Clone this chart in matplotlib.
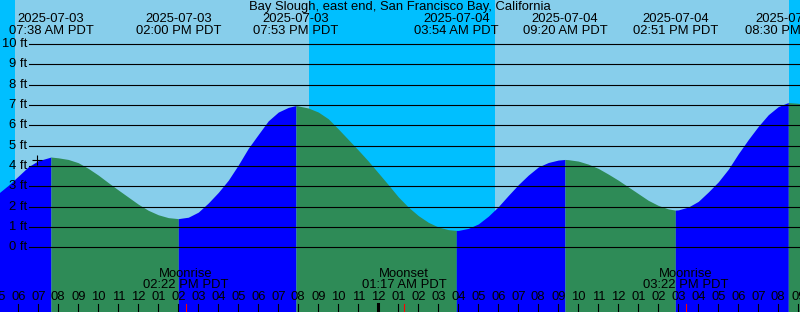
import numpy as np
import matplotlib
matplotlib.use('Agg')
import matplotlib.pyplot as plt

# tide heights every half hour
# (hours since 2025-07-03 00:00 PDT, feet)
hours = [5.0, 5.5, 6.0, 6.5, 7.0, 7.5, 7.633, 8.0, 8.5, 9.0, 9.5, 10.0, 10.5,
         11.0, 11.5, 12.0, 12.5, 13.0, 13.5, 14.0, 14.5, 15.0, 15.5, 16.0,
         16.5, 17.0, 17.5, 18.0, 18.5, 19.0, 19.5, 19.883, 20.0, 20.5, 21.0,
         21.5, 22.0, 22.5, 23.0, 23.5, 24.0, 24.5, 25.0, 25.5, 26.0, 26.5,
         27.0, 27.5, 27.9, 28.0, 28.5, 29.0, 29.5, 30.0, 30.5, 31.0, 31.5,
         32.0, 32.5, 33.0, 33.333, 33.5, 34.0, 34.5, 35.0, 35.5, 36.0, 36.5,
         37.0, 37.5, 38.0, 38.5, 38.85, 39.0, 39.5, 40.0, 40.5, 41.0, 41.5,
         42.0, 42.5, 43.0, 43.5, 44.0, 44.5, 45.0, 45.2]
heights = [2.65, 3.05, 3.50, 3.96, 4.26, 4.40, 4.44, 4.40, 4.32, 4.16, 3.88,
           3.55, 3.18, 2.82, 2.47, 2.12, 1.82, 1.60, 1.46, 1.41, 1.48, 1.73,
           2.18, 2.70, 3.30, 4.05, 4.87, 5.55, 6.22, 6.65, 6.88, 6.97, 6.95,
           6.85, 6.65, 6.32, 5.82, 5.30, 4.78, 4.24, 3.66, 3.08, 2.48, 1.98,
           1.56, 1.23, 1.00, 0.87, 0.83, 0.83, 0.93, 1.15, 1.53, 2.00, 2.55,
           3.08, 3.55, 3.95, 4.17, 4.29, 4.32, 4.31, 4.24, 4.09, 3.88, 3.60,
           3.30, 2.97, 2.64, 2.31, 2.06, 1.89, 1.83, 1.84, 1.98, 2.26, 2.72,
           3.22, 3.84, 4.60, 5.30, 5.95, 6.52, 6.92, 7.12, 7.08, 7.05]

# high / low tide events
event_hours = [7.633, 14.0, 19.883, 27.9, 33.333, 38.85, 44.5]
event_dates = ['2025-07-03', '2025-07-03', '2025-07-03', '2025-07-04',
               '2025-07-04', '2025-07-04', '2025-07-04']
event_times = ['07:38 AM PDT', '02:00 PM PDT', '07:53 PM PDT', '03:54 AM PDT',
               '09:20 AM PDT', '02:51 PM PDT', '08:30 PM PDT']

# moon events
moon_hours = [14.367, 25.283, 39.367]
moon_names = ['Moonrise', 'Moonset', 'Moonrise']
moon_times = ['02:22 PM PDT', '01:17 AM PDT', '03:22 PM PDT']

# night spans (sunset -> sunrise)
night_spans = [(4.0, 5.83), (20.53, 29.83), (44.53, 46.0)]

title = 'Bay Slough, east end, San Francisco Bay, California'
levels = list(range(0, 11))

W, H = 800, 312
x0, x1 = 5.085, 45.085
y0, y1 = -3.18, 12.16
FS = 9.4


def ypos(px):
    # pixel row from top -> axes fraction
    return 1 - px / H


def main():
    plt.rcParams['font.family'] = ['Liberation Sans', 'DejaVu Sans']
    fig = plt.figure(figsize=(W / 100, H / 100), dpi=100)
    ax = fig.add_axes([0, 0, 1, 1])
    ax.set_xlim(x0, x1)
    ax.set_ylim(y0, y1)
    ax.axis('off')

    # sky, day and night
    ax.axvspan(x0 - 1, x1 + 1, color='#87CEEB', lw=0, zorder=0)
    for a, b in night_spans:
        ax.axvspan(a, b, color='#00BFFF', lw=0, zorder=0)

    # water, blue while rising and green while falling
    t = np.array(hours)
    h = np.array(heights)
    bounds = [t[0]] + event_hours + [t[-1]]
    for i in range(len(bounds) - 1):
        m = (t >= bounds[i]) & (t <= bounds[i + 1])
        rising = (i % 2 == 0)
        ax.fill_between(t[m], h[m], y0 - 1, color='#0000FF' if rising else '#2E8B57',
                        lw=0, zorder=1)

    # level lines and labels
    gx = x0 + 29 / 20
    for lv in levels:
        ax.plot([gx, x1 + 1], [lv, lv], color='black', lw=0.8, zorder=2)
        ax.text(x0 + 27 / 20, lv, f'{lv} ft', ha='right', va='center',
                fontsize=FS, zorder=3)

    # current time marker
    ax.plot([6.935], [4.27], marker='+', color='black', ms=7, mew=0.8, zorder=4)

    tr = ax.get_xaxis_transform()
    ax.text(400 / 20 + x0, ypos(7), title, ha='center', va='center', fontsize=FS,
            transform=tr)
    for th, d, tm in zip(event_hours, event_dates, event_times):
        ax.text(th, ypos(19), d, ha='center', va='center', fontsize=FS, transform=tr)
        ax.text(th, ypos(31), tm, ha='center', va='center', fontsize=FS, transform=tr)

    # moon events
    for th, nm, tm in zip(moon_hours, moon_names, moon_times):
        ax.text(th, ypos(274), nm, ha='center', va='center', fontsize=FS, transform=tr)
        ax.text(th, ypos(285), tm, ha='center', va='center', fontsize=FS, transform=tr)
        ax.plot([th, th], [ypos(304), 0], color='red', lw=0.8, transform=tr, zorder=5)

    # hour ticks along the bottom
    for hr in range(5, 46):
        lab = f'{(hr - 1) % 12 + 1:02d}'
        ax.text(hr, ypos(297), lab, ha='center', va='center', fontsize=FS, transform=tr)
        lw = 2.2 if hr % 24 == 0 else 0.8
        ax.plot([hr, hr], [ypos(304), 0], color='black', lw=lw, transform=tr, zorder=5)

    fig.savefig('out.png', dpi=100)


if __name__ == '__main__':
    main()
